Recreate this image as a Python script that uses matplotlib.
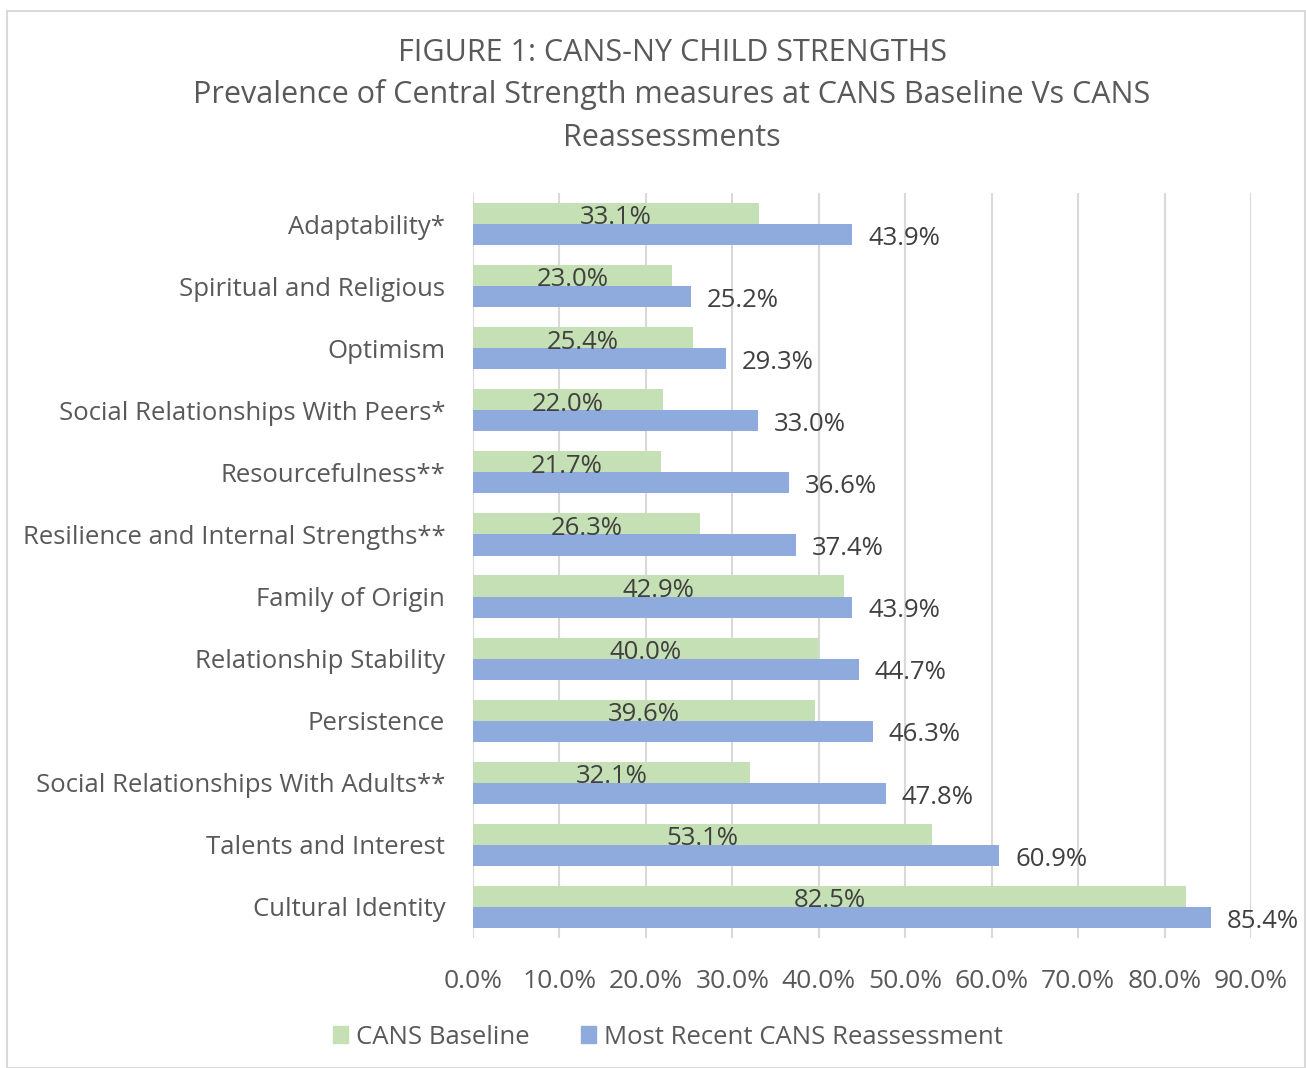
import numpy as np
from matplotlib import pyplot as plt
from matplotlib.patches import Rectangle

# Data, top to bottom as shown in the chart
categories = [
    "Adaptability*",
    "Spiritual and Religious",
    "Optimism",
    "Social Relationships With Peers*",
    "Resourcefulness**",
    "Resilience and Internal Strengths**",
    "Family of Origin",
    "Relationship Stability",
    "Persistence",
    "Social Relationships With Adults**",
    "Talents and Interest",
    "Cultural Identity",
]
baseline = [33.1, 23.0, 25.4, 22.0, 21.7, 26.3, 42.9, 40.0, 39.6, 32.1, 53.1, 82.5]
reassessment = [43.9, 25.2, 29.3, 33.0, 36.6, 37.4, 43.9, 44.7, 46.3, 47.8, 60.9, 85.4]
series_names = ["CANS Baseline", "Most Recent CANS Reassessment"]

GREEN = "#c5e0b4"
BLUE = "#8faadc"
TEXT = "#595959"
GRID = "#d9d9d9"

plt.rcParams['font.family'] = ['Open Sans', 'DejaVu Sans']

fig = plt.figure(figsize=(13.06, 10.68), dpi=100)
W, H = 1306, 1068

# outer chart border
fig.patches.append(Rectangle((7 / W, 0), (W - 8) / W, (H - 11) / H, transform=fig.transFigure,
                             fill=False, edgecolor=GRID, linewidth=1.5))

ax = fig.add_axes([473 / W, 1 - 938 / H, (1251 - 473) / W, (938 - 193) / H])

n = len(categories)
y = np.arange(n)
h = 0.34
ax.barh(y - h / 2, baseline, height=h, color=GREEN, zorder=3)
ax.barh(y + h / 2, reassessment, height=h, color=BLUE, zorder=3)

for yi, b, r in zip(y, baseline, reassessment):
    ax.text(b / 2, yi - h / 2 + 0.07, f"{b:.1f}%", ha="center", va="center",
            fontsize=18.5, color="#404040", zorder=4)
    ax.text(r + 1.8, yi + h / 2 + 0.06, f"{r:.1f}%", ha="left", va="center",
            fontsize=18.5, color="#404040", zorder=4)

ax.set_ylim(n - 0.5, -0.5)
ax.set_xlim(0, 90)
ax.set_xticks(np.arange(0, 91, 10))
ax.set_xticklabels([f"{v:.1f}%" for v in np.arange(0, 91, 10)])
ax.set_yticks(y)
ax.set_yticklabels(categories)
ax.tick_params(axis="x", length=0, labelsize=19, colors=TEXT, pad=22)
ax.tick_params(axis="y", length=0, labelsize=18.5, colors=TEXT, pad=20)
ax.grid(axis="x", color=GRID, linewidth=1.5, zorder=0)
for s in ax.spines.values():
    s.set_visible(False)

cx = 672 / W
fig.text(cx, 1 - 53 / H, "FIGURE 1: CANS-NY CHILD STRENGTHS", ha="center", va="center",
         fontsize=22, color=TEXT)
fig.text(cx, 1 - 95 / H, "Prevalence of Central Strength measures at CANS Baseline Vs CANS",
         ha="center", va="center", fontsize=22, color=TEXT)
fig.text(cx, 1 - 138 / H, "Reassessments", ha="center", va="center", fontsize=22, color=TEXT)

handles = [Rectangle((0, 0), 1, 1, color=GREEN), Rectangle((0, 0), 1, 1, color=BLUE)]
fig.legend(handles, series_names, loc="center", bbox_to_anchor=(668 / W, 1 - 1037 / H),
           ncol=2, frameon=False, fontsize=18.5, labelcolor=TEXT, handlelength=0.6,
           handleheight=0.6, handletextpad=0.3, columnspacing=2.0)

fig.savefig("out.png", dpi=100)
